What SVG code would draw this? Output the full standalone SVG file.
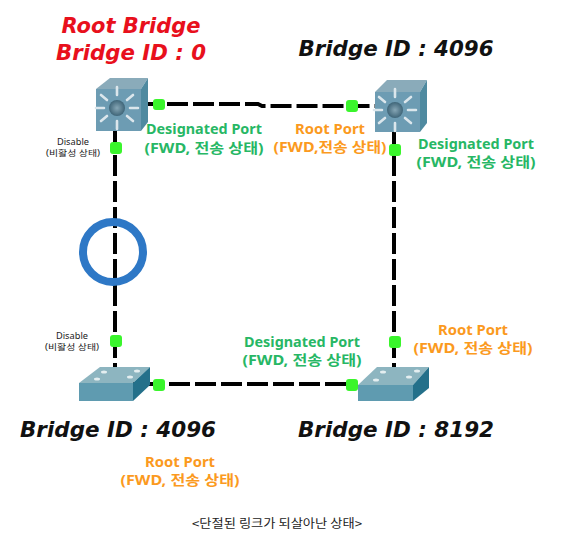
<svg xmlns="http://www.w3.org/2000/svg" width="569" height="549" viewBox="0 0 569 549">
<style>
text{font-family:"Noto Sans","Noto Sans CJK KR",sans-serif;text-anchor:middle}
.t{font-family:"DejaVu Sans","Noto Sans CJK KR",sans-serif;font-weight:bold;font-style:italic;font-size:22px;fill:#111}
.r{fill:#e8101c}
.g{font-weight:bold;font-size:13.5px;fill:#27b765}
.o{font-weight:bold;font-size:13.5px;fill:#fb9a1e}
.d{font-size:8px;fill:#222}
.c{font-size:12px;fill:#222;font-family:"Noto Sans CJK KR",sans-serif}
.l{fill:none;stroke:#000;stroke-width:4;stroke-dasharray:21 5}
.p{fill:#3af52c}
.f{fill:#6d9cb3}.top{fill:#8aabba}.sd{fill:#4f8aa0}
.ff{fill:#5f9bb0}.ft{fill:#8db5c0}.fs{fill:#24708a}
.ray{stroke:#dbe6ec;stroke-width:2.6;stroke-linecap:round}
.dot{fill:#e4eef0}
</style>
<defs>
<radialGradient id="hub"><stop offset="0" stop-color="#86a6b5"/><stop offset="1" stop-color="#3f6578"/></radialGradient>
<g id="rays">
<path class="ray" d="M0-21V-13M0 21V13M-21 0H-13M21 0H13M-16-13L-10-8M16-13L10-8M-16 13L-10 8M16 13L10 8"/>
<circle r="8" fill="url(#hub)"/>
</g>
</defs>
<rect width="569" height="549" fill="#fff"/>
<g id="connectors">
<path class="l" stroke-dashoffset="7" d="M148 104H258L262 106H375"/>
<path class="l" stroke-dashoffset="2" d="M115 131V368"/>
<path class="l" stroke-dashoffset="2" d="M394 131V367"/>
<path class="l" stroke-dashoffset="16" d="M133 384H358"/>
</g>
<g id="ring"><circle cx="113" cy="252" r="30" fill="none" stroke="#2e78c6" stroke-width="8"/></g>
<g id="switch-root">
<path class="top" d="M96 89L110 78H148L141 89Z"/><path class="sd" d="M141 89L148 78V122L141 131Z"/><rect class="f" x="96" y="89" width="45" height="42"/>
<use href="#rays" x="117" y="108"/>
</g>
<g id="switch-tr">
<path class="top" d="M375 92L387 80H427L420 92Z"/><path class="sd" d="M420 92L427 80V123L420 132Z"/><rect class="f" x="375" y="92" width="45" height="40"/>
<use href="#rays" x="395" y="110"/>
</g>
<g id="switch-bl">
<path class="ft" d="M79 383L100 367H150L133 383Z"/><path class="fs" d="M133 383L150 367V385L133 401Z"/><rect class="ff" x="79" y="383" width="54" height="18"/>
<g class="dot"><ellipse cx="104" cy="372" rx="3" ry="1.5"/><ellipse cx="137" cy="371" rx="3" ry="1.5"/><ellipse cx="97" cy="379" rx="3" ry="1.5"/><ellipse cx="130" cy="377" rx="3" ry="1.5"/></g>
</g>
<g id="switch-br">
<path class="ft" d="M358 385L377 367H429L413 385Z"/><path class="fs" d="M413 385L429 367V388L413 401Z"/><rect class="ff" x="358" y="385" width="55" height="16"/>
<g class="dot"><ellipse cx="383" cy="372" rx="3" ry="1.5"/><ellipse cx="417" cy="371" rx="3" ry="1.5"/><ellipse cx="376" cy="380" rx="3" ry="1.5"/><ellipse cx="409" cy="377" rx="3" ry="1.5"/></g>
</g>
<g id="ports">
<rect class="p" x="153" y="99" width="12" height="11" rx="3"/>
<rect class="p" x="346" y="100" width="12" height="12" rx="3"/>
<rect class="p" x="110" y="142" width="12" height="12" rx="3"/>
<rect class="p" x="389" y="144" width="12" height="12" rx="3"/>
<rect class="p" x="110" y="335" width="12" height="12" rx="3"/>
<rect class="p" x="389" y="336" width="12" height="12" rx="3"/>
<rect class="p" x="153" y="379" width="12" height="12" rx="3"/>
<rect class="p" x="346" y="379" width="12" height="12" rx="3"/>
</g>
<g id="labels">
<text class="t r" x="131" y="33" textLength="139" lengthAdjust="spacingAndGlyphs">Root Bridge</text>
<text class="t r" x="131" y="60" textLength="150" lengthAdjust="spacingAndGlyphs">Bridge ID : 0</text>
<text class="t" x="396" y="56" textLength="195" lengthAdjust="spacingAndGlyphs">Bridge ID : 4096</text>
<text class="t" x="118" y="437" textLength="196" lengthAdjust="spacingAndGlyphs">Bridge ID : 4096</text>
<text class="t" x="396" y="437" textLength="196" lengthAdjust="spacingAndGlyphs">Bridge ID : 8192</text>
<text class="g" x="204" y="134" textLength="116" lengthAdjust="spacingAndGlyphs">Designated Port</text>
<text class="g" x="204" y="153" textLength="119" lengthAdjust="spacingAndGlyphs">(FWD, 전송 상태)</text>
<text class="o" x="330" y="134" textLength="70" lengthAdjust="spacingAndGlyphs">Root Port</text>
<text class="o" x="330" y="152" textLength="113" lengthAdjust="spacingAndGlyphs">(FWD,전송 상태)</text>
<text class="g" x="476" y="149" textLength="116" lengthAdjust="spacingAndGlyphs">Designated Port</text>
<text class="g" x="476" y="167" textLength="119" lengthAdjust="spacingAndGlyphs">(FWD, 전송 상태)</text>
<text class="g" x="302" y="347" textLength="116" lengthAdjust="spacingAndGlyphs">Designated Port</text>
<text class="g" x="302" y="365" textLength="119" lengthAdjust="spacingAndGlyphs">(FWD, 전송 상태)</text>
<text class="o" x="473" y="335" textLength="70" lengthAdjust="spacingAndGlyphs">Root Port</text>
<text class="o" x="473" y="353" textLength="119" lengthAdjust="spacingAndGlyphs">(FWD, 전송 상태)</text>
<text class="o" x="180" y="467" textLength="70" lengthAdjust="spacingAndGlyphs">Root Port</text>
<text class="o" x="180" y="485" textLength="119" lengthAdjust="spacingAndGlyphs">(FWD, 전송 상태)</text>
<text class="d" x="73" y="145" textLength="32" lengthAdjust="spacingAndGlyphs">Disable</text>
<text class="d" x="73" y="156" textLength="54" lengthAdjust="spacingAndGlyphs">(비활성 상태)</text>
<text class="d" x="72" y="339" textLength="32" lengthAdjust="spacingAndGlyphs">Disable</text>
<text class="d" x="72" y="350" textLength="54" lengthAdjust="spacingAndGlyphs">(비활성 상태)</text>
<text class="c" x="277" y="528" textLength="170" lengthAdjust="spacingAndGlyphs">&lt;단절된 링크가 되살아난 상태&gt;</text>
</g>
</svg>
